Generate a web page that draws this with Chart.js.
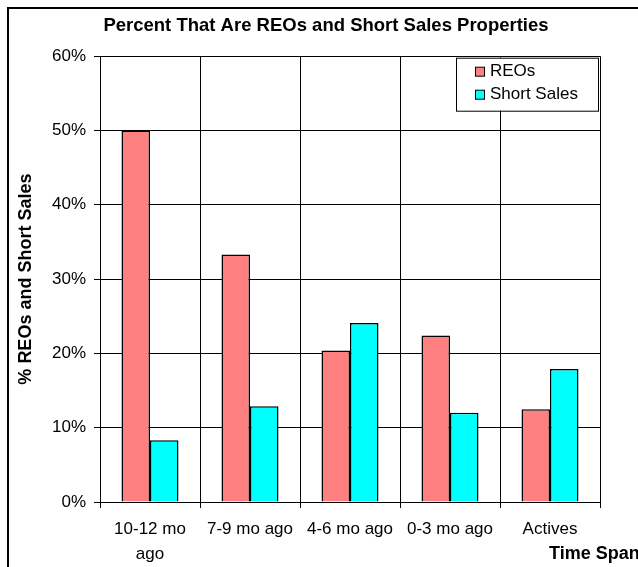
<!DOCTYPE html>
<html>
<head>
<meta charset="utf-8">
<title>Percent That Are REOs and Short Sales Properties</title>
<script src="https://cdn.jsdelivr.net/npm/chart.js@4.4.1/dist/chart.umd.min.js"></script>
<style>
  html, body { margin: 0; padding: 0; background: #fff; overflow: hidden; }
  canvas { display: block; }
</style>
</head>
<body>
<canvas id="reoChart" width="638" height="567"></canvas>
<script>
// data
const timeSpans = [['10-12 mo', 'ago'], '7-9 mo ago', '4-6 mo ago', '0-3 mo ago', 'Actives'];
const reoPct = [50.0, 33.3, 20.4, 22.4, 12.5];
const shortSalePct = [8.3, 12.9, 24.1, 12.0, 17.9];
const yMin = 0, yMax = 60, yStep = 10;

Chart.defaults.font.family = '"Liberation Sans", Arial, sans-serif';
Chart.defaults.color = '#000';

// outer frame, legend box and the x title that sits past the plot
const excelBits = {
    id: 'excelBits',
    afterDraw(chart) {
        const ctx = chart.ctx;
        const area = chart.chartArea;
        ctx.save();

        ctx.strokeStyle = '#000';
        ctx.lineWidth = 2;
        ctx.strokeRect(8, 8, 700, 700);

        // legend
        const bx = area.right - 144, by = area.top + 1.5, bw = 142, bh = 53;
        ctx.fillStyle = '#fff';
        ctx.fillRect(bx, by, bw, bh);
        ctx.lineWidth = 1;
        ctx.strokeRect(bx + 0.5, by + 0.5, bw, bh);
        ctx.font = '17px "Liberation Sans", Arial, sans-serif';
        ctx.textBaseline = 'middle';
        chart.data.datasets.forEach(function(ds, i) {
            const y = by + 14 + i * 23;
            ctx.fillStyle = ds.backgroundColor;
            ctx.fillRect(bx + 19, y - 4.5, 9, 9);
            ctx.strokeStyle = '#000';
            ctx.strokeRect(bx + 19.5, y - 4.5, 9, 9);
            ctx.fillStyle = '#000';
            ctx.fillText(ds.label, bx + 34, y);
        });

        ctx.font = 'bold 18px "Liberation Sans", Arial, sans-serif';
        ctx.fillText('Time Span', 549, 554);
        ctx.restore();
    }
};

new Chart(document.getElementById('reoChart'), {
    type: 'bar',
    data: {
        labels: timeSpans,
        datasets: [{
            label: 'REOs',
            data: reoPct,
            backgroundColor: '#FF8080',
            borderColor: '#000',
            borderWidth: 1.5
        }, {
            label: 'Short Sales',
            data: shortSalePct,
            backgroundColor: '#00FFFF',
            borderColor: '#000',
            borderWidth: 1.5
        }]
    },
    options: {
        responsive: false,
        animation: false,
        categoryPercentage: 0.57,
        barPercentage: 1.0,
        layout: {
            padding: { left: 52, right: 38, top: 0, bottom: 0 }
        },
        plugins: {
            legend: { display: false },
            tooltip: { enabled: false },
            title: {
                display: true,
                text: 'Percent That Are REOs and Short Sales Properties',
                font: { size: 18.5, weight: 'bold' },
                padding: { top: 15, bottom: 19 }
            }
        },
        scales: {
            x: {
                grid: {
                    offset: true,
                    color: '#000',
                    tickColor: '#000',
                    tickLength: 6
                },
                border: { color: '#000' },
                ticks: {
                    font: { size: 17, lineHeight: 1.47 },
                    padding: 9,
                    maxRotation: 0,
                    autoSkip: false
                },
                afterFit: function(s) { s.height = 65; }
            },
            y: {
                min: yMin,
                max: yMax,
                grid: {
                    color: '#000',
                    tickColor: '#000',
                    tickLength: 6
                },
                border: { color: '#000' },
                ticks: {
                    stepSize: yStep,
                    font: { size: 17 },
                    padding: 8,
                    callback: function(v) { return v + '%'; }
                },
                title: {
                    display: true,
                    text: '% REOs and Short Sales',
                    font: { size: 18, weight: 'bold' },
                    padding: { top: -37, bottom: 0 }
                },
                afterFit: function(s) { s.width = 48; }
            }
        }
    },
    plugins: [excelBits]
});
</script>
</body>
</html>
